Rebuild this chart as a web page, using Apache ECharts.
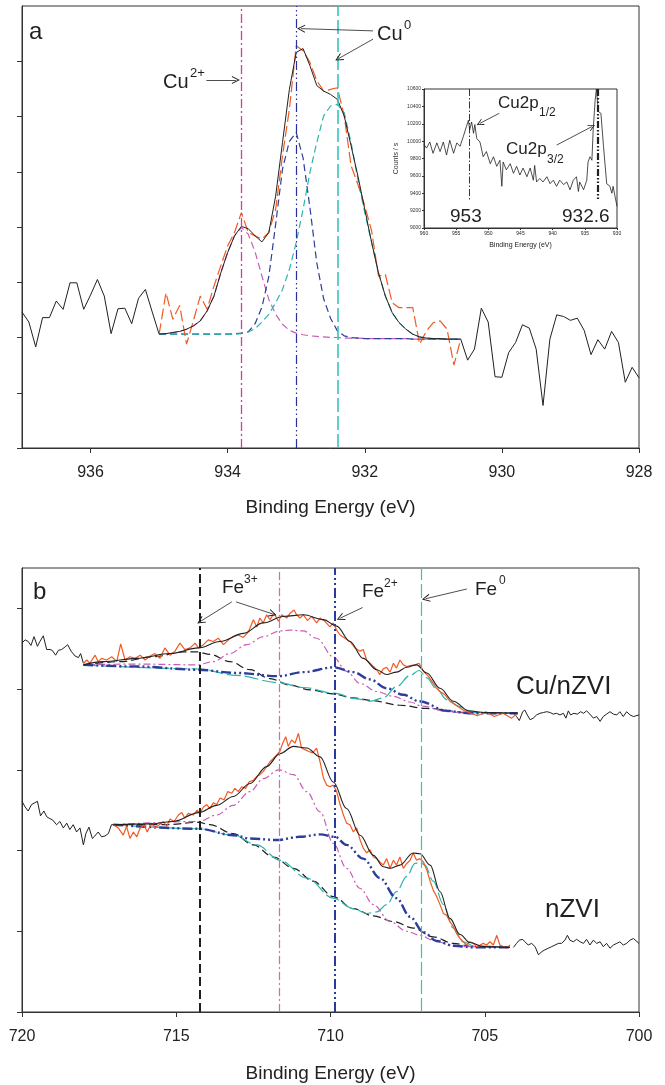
<!DOCTYPE html>
<html>
<head>
<meta charset="utf-8" />
<title>XPS Cu 2p / Fe 2p</title>
<style>
  html, body { margin: 0; padding: 0; background: #fff; }
  #chart { width: 665px; height: 1085px; }
</style>
</head>
<body>
<div id="chart"></div>
<script src="https://cdn.jsdelivr.net/npm/echarts@6/dist/echarts.min.js"></script>
<script>
// ---------- panel a : Cu 2p3/2 ----------
var cuRawLeft = [[937.0,2.46],[936.9,2.28],[936.8,1.83],[936.7,2.36],[936.6,2.36],[936.5,2.66],[936.4,2.51],[936.3,2.99],[936.2,2.99],[936.1,2.51],[936.0,2.77],[935.9,3.05],[935.8,2.75],[935.7,2.07],[935.6,2.52],[935.5,2.53],[935.4,2.25],[935.3,2.71],[935.2,2.87],[935.1,2.46],[935.0,2.06]];
var cuRawRight = [[930.6,1.97],[930.5,1.59],[930.4,1.79],[930.3,2.53],[930.2,2.28],[930.1,1.29],[930.0,1.28],[929.9,1.73],[929.8,1.91],[929.7,2.23],[929.6,2.17],[929.5,1.79],[929.4,0.77],[929.3,1.97],[929.2,2.41],[929.1,2.38],[929.0,2.31],[928.9,2.35],[928.8,2.13],[928.7,1.69],[928.6,1.96],[928.5,1.79],[928.4,2.11],[928.3,1.91],[928.2,1.19],[928.1,1.46],[928.0,1.27]];
var cuFitE = [935.0,934.9,934.8,934.7,934.6,934.5,934.4,934.3,934.2,934.1,934.0,933.9,933.8,933.7,933.6,933.5,933.4,933.3,933.2,933.1,933.0,932.9,932.8,932.7,932.6,932.5,932.4,932.3,932.2,932.1,932.0,931.9,931.8,931.7,931.6,931.5,931.4,931.3,931.2,931.1,931.0,930.9,930.8,930.7,930.6];
var cuData = [2.06,2.81,2.33,2.58,1.88,2.30,2.75,2.51,2.93,3.30,3.66,3.90,4.26,3.90,3.84,3.78,3.90,4.32,5.29,6.13,7.28,7.19,6.98,6.65,6.46,6.49,6.52,6.01,5.11,4.77,4.38,3.93,3.11,3.14,2.63,2.54,2.54,2.54,1.88,2.12,2.27,2.30,2.15,1.50,1.97];
var cuEnvelope = [2.06,2.07,2.09,2.11,2.15,2.21,2.30,2.48,2.75,3.17,3.54,3.84,4.01,3.97,3.84,3.73,3.90,4.56,5.53,6.49,7.16,7.23,6.92,6.56,6.46,6.40,6.31,6.01,5.47,4.92,4.32,3.72,3.17,2.75,2.45,2.27,2.15,2.06,2.01,1.99,1.98,1.98,1.97,1.97,1.97];
var cuPeak2plus = [2.06,2.07,2.09,2.11,2.15,2.21,2.30,2.48,2.75,3.17,3.54,3.84,3.99,3.87,3.55,3.11,2.69,2.42,2.24,2.13,2.08,2.05,2.03,2.02,2.01,2.00,2.00,1.99,1.99,1.99,1.98,1.98,1.98,1.98,1.98,1.98,1.98,1.97,1.97,1.97,1.97,1.97,1.97,1.97,1.97];
var cuPeak0a = [2.06,2.06,2.06,2.06,2.06,2.06,2.06,2.06,2.06,2.06,2.06,2.07,2.08,2.10,2.25,2.55,3.10,4.05,5.05,5.55,5.71,5.25,4.35,3.35,2.70,2.35,2.12,2.03,2.00,1.99,1.98,1.98,1.98,1.98,1.98,1.98,1.98,1.97,1.97,1.97,1.97,1.97,1.97,1.97,1.97];
var cuPeak0b = [2.06,2.06,2.06,2.06,2.06,2.06,2.06,2.06,2.06,2.06,2.06,2.06,2.07,2.10,2.16,2.28,2.42,2.63,2.87,3.23,3.72,4.32,4.99,5.53,6.01,6.19,6.22,6.07,5.53,4.86,4.26,3.72,3.17,2.75,2.45,2.27,2.15,2.06,2.01,1.99,1.98,1.98,1.97,1.97,1.97];
var cuLines = [933.8, 933.0, 932.4];
var cuTicks = [928, 930, 932, 934, 936];

// ---------- inset : Cu 2p survey ----------
var insetE = [960.0,959.6,959.1,958.6,958.0,957.5,957.0,956.5,956.0,955.4,954.9,954.4,953.9,953.4,953.1,952.9,952.6,952.3,952.1,951.8,951.3,950.8,950.3,949.7,949.2,948.7,948.2,947.9,947.7,947.2,946.6,946.1,945.6,945.1,944.6,944.0,943.5,943.0,942.8,942.5,942.0,941.5,940.9,940.4,939.9,939.4,938.9,938.3,937.8,937.3,936.8,936.3,936.0,935.8,935.2,934.7,934.5,934.2,933.9,933.7,933.4,933.2,932.9,932.5,932.1,931.6,931.1,930.8,930.6,930.3,930.0];
var insetCounts = [9960,9920,9990,9860,9980,9880,9990,9840,10010,9860,9980,9940,10050,10170,10240,10130,10220,10090,10190,10030,9990,9820,9880,9740,9820,9710,9780,9480,9760,9670,9740,9630,9710,9610,9690,9590,9690,9550,9720,9530,9570,9530,9590,9510,9550,9480,9550,9500,9530,9440,9550,9590,9420,9530,9440,9550,9760,9820,9780,10130,10470,10600,10340,10320,9940,9510,9480,9400,9480,9360,9250];
var insetLines = [953, 933];

// ---------- panel b : Fe 2p3/2 ----------
var feRawTopLeft = [[720.0,4.57],[719.9,4.61],[719.8,4.59],[719.71,4.54],[719.61,4.65],[719.5,4.53],[719.42,4.59],[719.31,4.66],[719.2,4.49],[719.09,4.49],[719.02,4.48],[718.91,4.42],[718.82,4.48],[718.72,4.49],[718.61,4.52],[718.52,4.55],[718.41,4.47],[718.28,4.41],[718.17,4.39],[718.1,4.44],[718.01,4.32]];
var feRawTopRight = [[704.07,3.71],[703.97,3.66],[703.88,3.61],[703.77,3.72],[703.7,3.74],[703.62,3.68],[703.53,3.62],[703.43,3.64],[703.32,3.68],[703.21,3.70],[703.1,3.71],[702.99,3.72],[702.88,3.71],[702.78,3.69],[702.67,3.70],[702.56,3.68],[702.45,3.70],[702.37,3.64],[702.29,3.73],[702.22,3.68],[702.11,3.70],[702.0,3.69],[701.89,3.72],[701.8,3.70],[701.7,3.73],[701.59,3.69],[701.48,3.64],[701.37,3.66],[701.26,3.60],[701.16,3.66],[701.05,3.69],[700.94,3.72],[700.83,3.69],[700.72,3.68],[700.62,3.72],[700.51,3.66],[700.4,3.72],[700.29,3.68],[700.18,3.66],[700.0,3.68]];
var feRawBotLeft = [[720.0,2.61],[719.9,2.54],[719.8,2.49],[719.69,2.57],[719.5,2.61],[719.4,2.43],[719.29,2.49],[719.2,2.42],[719.12,2.40],[719.01,2.38],[718.88,2.32],[718.77,2.36],[718.66,2.28],[718.55,2.34],[718.45,2.26],[718.34,2.32],[718.23,2.23],[718.12,2.28],[718.01,2.07],[717.93,2.21],[717.83,2.29],[717.72,2.15],[717.64,2.18],[717.53,2.23],[717.42,2.17],[717.31,2.18],[717.2,2.21],[717.1,2.32],[717.04,2.32]];
var feRawBotRight = [[704.07,0.80],[703.97,0.85],[703.88,0.89],[703.77,0.90],[703.7,0.87],[703.59,0.83],[703.48,0.85],[703.37,0.81],[703.26,0.71],[703.14,0.75],[703.05,0.77],[702.94,0.79],[702.83,0.81],[702.72,0.83],[702.61,0.85],[702.51,0.85],[702.4,0.89],[702.32,0.95],[702.24,0.89],[702.13,0.87],[702.02,0.90],[701.91,0.87],[701.8,0.85],[701.7,0.90],[701.59,0.83],[701.48,0.89],[701.37,0.85],[701.26,0.87],[701.16,0.81],[701.05,0.85],[700.94,0.79],[700.83,0.83],[700.72,0.85],[700.62,0.87],[700.51,0.83],[700.4,0.85],[700.29,0.89],[700.18,0.91],[700.0,0.85]];

var feDataTop = [[718.01,4.32],[717.9,4.36],[717.8,4.32],[717.63,4.42],[717.53,4.34],[717.42,4.38],[717.26,4.36],[717.09,4.40],[716.93,4.34],[716.8,4.56],[716.66,4.36],[716.5,4.40],[716.34,4.38],[716.17,4.42],[716.01,4.36],[715.85,4.41],[715.69,4.44],[715.53,4.38],[715.37,4.51],[715.2,4.42],[715.04,4.47],[714.88,4.57],[714.72,4.49],[714.55,4.51],[714.39,4.57],[714.28,4.51],[714.12,4.55],[713.96,4.61],[713.8,4.59],[713.64,4.63],[713.47,4.55],[713.31,4.61],[713.15,4.65],[712.99,4.67],[712.83,4.64],[712.66,4.71],[712.5,4.86],[712.39,4.77],[712.29,4.88],[712.18,4.82],[712.07,4.92],[711.96,4.86],[711.83,4.94],[711.69,4.84],[711.58,4.92],[711.42,4.88],[711.31,4.94],[711.18,4.98],[711.1,4.92],[710.99,4.88],[710.88,4.92],[710.75,4.85],[710.61,4.90],[710.45,4.82],[710.34,4.88],[710.18,4.84],[710.02,4.77],[709.91,4.82],[709.8,4.73],[709.69,4.67],[709.53,4.63],[709.37,4.59],[709.21,4.51],[709.04,4.47],[708.94,4.49],[708.83,4.36],[708.72,4.32],[708.61,4.28],[708.5,4.24],[708.4,4.18],[708.29,4.25],[708.18,4.27],[708.07,4.21],[707.96,4.32],[707.86,4.26],[707.75,4.36],[707.64,4.30],[707.53,4.28],[707.42,4.29],[707.26,4.30],[707.13,4.32],[706.99,4.22],[706.83,4.16],[706.67,4.07],[706.56,4.01],[706.45,3.97],[706.29,3.93],[706.13,3.85],[706.07,3.86],[705.86,3.78],[705.65,3.73],[705.51,3.71],[705.24,3.67],[704.96,3.72],[704.69,3.66],[704.41,3.70],[704.13,3.64],[703.93,3.70]];
var feTopEnv = [[718.01,4.30],[717.36,4.34],[716.28,4.38],[715.2,4.44],[714.28,4.51],[713.58,4.59],[712.82,4.69],[712.18,4.82],[711.53,4.90],[710.88,4.92],[710.23,4.86],[709.8,4.78],[709.37,4.59],[708.94,4.38],[708.5,4.24],[708.18,4.18],[707.86,4.21],[707.53,4.27],[707.21,4.30],[706.88,4.20],[706.45,4.01],[706.02,3.85],[705.51,3.73],[704.99,3.71],[703.93,3.70]];
var feTopSat = [[718.01,4.30],[716.82,4.34],[715.74,4.40],[714.77,4.46],[714.32,4.46],[713.91,4.43],[713.26,4.34],[712.61,4.24],[711.96,4.13],[711.31,4.05],[710.66,3.99],[709.91,3.94],[709.26,3.89],[708.7,3.86],[707.75,3.80],[706.9,3.76],[705.51,3.71],[703.93,3.70]];
var feTopFe3 = [[718.01,4.30],[716.28,4.31],[714.32,4.30],[713.8,4.34],[713.26,4.44],[712.72,4.55],[712.18,4.65],[711.64,4.72],[711.31,4.73],[710.88,4.72],[710.45,4.63],[709.91,4.40],[709.48,4.22],[709.04,4.07],[708.5,3.97],[707.96,3.91],[707.42,3.84],[707.04,3.79],[706.21,3.72],[705.51,3.70],[703.93,3.70]];
var feTopFe2 = [[718.01,4.30],[716.28,4.28],[714.32,4.24],[713.04,4.20],[711.69,4.16],[710.88,4.21],[709.89,4.27],[709.26,4.21],[708.72,4.12],[708.18,4.01],[707.64,3.93],[707.13,3.85],[706.21,3.73],[705.51,3.70],[703.93,3.70]];
var feTopFe0 = [[718.01,4.30],[714.32,4.25],[713.04,4.17],[711.69,4.08],[710.88,4.02],[709.89,3.95],[709.15,3.88],[708.72,3.85],[708.29,3.89],[707.86,4.03],[707.42,4.17],[707.13,4.23],[706.88,4.14],[706.56,4.00],[706.23,3.87],[705.79,3.78],[705.38,3.71],[704.13,3.70],[703.93,3.70]];

var feDataBot = [[717.04,2.32],[716.88,2.28],[716.72,2.19],[716.61,2.30],[716.5,2.15],[716.39,2.23],[716.28,2.17],[716.18,2.27],[716.05,2.32],[715.94,2.23],[715.8,2.34],[715.69,2.28],[715.55,2.32],[715.42,2.36],[715.31,2.30],[715.2,2.39],[715.07,2.36],[714.93,2.44],[714.82,2.47],[714.72,2.40],[714.61,2.46],[714.45,2.44],[714.32,2.50],[714.23,2.46],[714.12,2.54],[714.01,2.57],[713.91,2.52],[713.8,2.59],[713.69,2.57],[713.58,2.65],[713.45,2.63],[713.33,2.73],[713.2,2.71],[713.1,2.77],[712.99,2.73],[712.88,2.79],[712.75,2.77],[712.64,2.85],[712.5,2.87],[712.39,2.92],[712.29,2.94],[712.18,2.98],[712.07,3.04],[711.96,3.10],[711.85,3.14],[711.75,3.18],[711.64,3.23],[711.55,3.33],[711.45,3.41],[711.37,3.29],[711.26,3.37],[711.15,3.33],[711.04,3.45],[710.94,3.27],[710.83,3.25],[710.72,3.23],[710.58,3.21],[710.45,3.27],[710.34,3.10],[710.23,2.90],[710.12,2.81],[710.02,2.79],[709.91,2.81],[709.8,2.73],[709.69,2.57],[709.58,2.44],[709.48,2.34],[709.37,2.32],[709.26,2.23],[709.15,2.28],[709.04,2.13],[708.94,2.03],[708.83,1.97],[708.72,2.01],[708.61,1.92],[708.5,1.90],[708.4,1.86],[708.29,1.82],[708.18,1.90],[708.07,1.78],[707.96,1.88],[707.86,1.82],[707.75,1.92],[707.64,1.78],[707.53,1.84],[707.42,1.88],[707.32,1.97],[707.21,1.88],[707.1,1.90],[706.99,1.86],[706.88,1.76],[706.77,1.62],[706.67,1.51],[706.56,1.43],[706.45,1.33],[706.34,1.22],[706.24,1.20],[706.13,1.12],[706.02,1.06],[705.91,0.97],[705.8,0.91],[705.7,0.87],[705.59,0.83],[705.48,0.87],[705.37,0.85],[705.26,0.81],[705.15,0.83],[705.05,0.85],[704.94,0.83],[704.83,0.87],[704.72,0.83],[704.61,0.95],[704.51,0.83],[704.4,0.81],[704.29,0.79],[704.18,0.83]];
var feBotEnv = [[717.04,2.32],[715.85,2.33],[715.1,2.36],[714.27,2.47],[713.69,2.56],[713.15,2.67],[712.61,2.83],[712.07,3.04],[711.64,3.20],[711.2,3.29],[710.77,3.27],[710.34,3.16],[709.91,2.85],[709.48,2.52],[709.04,2.19],[708.61,1.94],[708.29,1.80],[708.07,1.78],[707.75,1.82],[707.32,1.97],[707.1,1.96],[706.77,1.82],[706.45,1.49],[706.13,1.16],[705.8,0.96],[705.48,0.86],[705.05,0.81],[704.18,0.80]];
var feBotSat = [[717.04,2.32],[715.31,2.32],[714.27,2.35],[713.91,2.32],[713.15,2.21],[712.5,2.07],[711.85,1.92],[711.2,1.78],[710.56,1.62],[709.91,1.43],[709.26,1.28],[708.61,1.19],[707.96,1.12],[707.32,1.04],[706.67,0.93],[706.02,0.85],[705.37,0.81],[704.18,0.80]];
var feBotFe3 = [[717.04,2.32],[714.27,2.36],[713.69,2.44],[713.15,2.56],[712.61,2.73],[712.18,2.89],[711.67,3.00],[711.2,2.94],[710.77,2.73],[710.34,2.48],[709.91,2.09],[709.48,1.78],[709.04,1.53],[708.61,1.33],[708.07,1.12],[707.53,1.00],[707.1,0.95],[706.67,0.89],[706.13,0.83],[705.59,0.81],[704.18,0.80]];
var feBotFe2 = [[717.04,2.32],[714.27,2.27],[713.15,2.19],[712.61,2.15],[711.75,2.13],[710.99,2.17],[710.34,2.20],[709.85,2.17],[709.48,2.07],[708.94,1.90],[708.4,1.66],[707.86,1.41],[707.42,1.18],[706.99,0.99],[706.56,0.88],[706.02,0.82],[705.37,0.80],[704.18,0.80]];
var feBotFe0 = [[717.04,2.32],[714.27,2.27],[713.15,2.19],[712.39,2.07],[711.64,1.88],[710.77,1.66],[709.91,1.41],[709.26,1.28],[708.83,1.22],[708.5,1.24],[708.18,1.33],[707.86,1.49],[707.53,1.68],[707.26,1.84],[707.1,1.86],[706.94,1.82],[706.67,1.62],[706.34,1.33],[706.02,1.04],[705.7,0.87],[705.37,0.82],[704.18,0.80]];
var feLines = [714.25, 711.65, 709.85, 707.05];
var feTicks = [700, 705, 710, 715, 720];

// ---------- styles ----------
var FONT = "'Liberation Sans', Arial, sans-serif";
var INK = '#231f20';
var ORANGE = '#f15a24';
var MAGENTA = '#c95cb5';
var BLUE = '#2e3d9c';
var CYAN = '#2ab5ab';
var ARROW = 'path://M5,0L10,10L8.7,10L5,2.6L1.3,10L0,10Z';

function zip(xs, ys) {
  return xs.map(function (x, i) { return [x, ys[i]]; });
}

function line(data, xi, color, width, type, z, smooth) {
  return {
    type: 'line', data: data, xAxisIndex: xi, yAxisIndex: xi,
    symbol: 'none', silent: true, z: z || 2,
    smooth: smooth ? 0.35 : false, smoothMonotone: smooth ? 'x' : undefined,
    lineStyle: { color: color, width: width, type: type || 'solid' }
  };
}

// full-height marker line, drawn as a two-point segment so its colour sticks
function vline(x, y0, y1, color, width, type) {
  return [{ coord: [x, y0], symbol: 'none', lineStyle: { color: color, width: width, type: type } },
          { coord: [x, y1], symbol: 'none' }];
}

function arrow(x1, y1, x2, y2, size) {
  return [{ coord: [x1, y1], symbol: 'none' },
          { coord: [x2, y2], symbol: ARROW, symbolSize: size || 8 }];
}

function xAxisCfg(grid, min, max, interval, ticks, nameGap, small) {
  return {
    gridIndex: grid, type: 'value', min: min, max: max, interval: interval, inverse: true,
    axisLine: { show: true, onZero: false, lineStyle: { color: '#333', width: 1 } },
    axisTick: { show: true, length: small ? 2 : 5, customValues: ticks, lineStyle: { color: '#333' } },
    axisLabel: { customValues: ticks, fontSize: small ? 5 : 16, color: '#222',
                 margin: small ? 3 : 17, fontFamily: FONT },
    splitLine: { show: false },
    name: 'Binding Energy (eV)', nameLocation: 'middle', nameGap: nameGap,
    nameTextStyle: { fontSize: small ? 7 : 19, color: '#222', fontFamily: FONT }
  };
}

function yAxisCfg(grid, min, max, interval, ticks) {
  return {
    gridIndex: grid, type: 'value', min: min, max: max, interval: interval,
    axisLine: { show: true, onZero: false, lineStyle: { color: '#333', width: 1 } },
    axisTick: { show: true, length: 5, customValues: ticks, lineStyle: { color: '#333' } },
    axisLabel: { show: false },
    splitLine: { show: false }
  };
}

var insetY = {
  gridIndex: 1, type: 'value', min: 9000, max: 10600, interval: 200,
  axisLine: { show: true, onZero: false, lineStyle: { color: '#333', width: 1 } },
  axisTick: { show: true, length: 2, lineStyle: { color: '#333' } },
  axisLabel: { fontSize: 5, color: '#333', margin: 3, fontFamily: FONT,
               formatter: function (v) { return String(v); } },
  splitLine: { show: false },
  name: 'Counts / s', nameLocation: 'middle', nameRotate: 90, nameGap: 24,
  nameTextStyle: { fontSize: 7, color: '#333', fontFamily: FONT }
};

var dashA = [7, 4];

var series = [
  // panel a
  Object.assign(line(cuRawLeft, 0, INK, 1), {
    markLine: {
      silent: true, symbol: 'none', label: { show: false },
      data: [
        vline(cuLines[0], 0, 8, '#d23c9c', 1.3, [9, 3, 2, 3]),
        vline(cuLines[1], 0, 8, '#2a2f9e', 1.2, [9, 3, 1.5, 3, 1.5, 3]),
        vline(cuLines[2], 0, 8, '#33c6bd', 1.6, [14, 4])
      ]
    }
  }),
  Object.assign(line(cuRawRight, 0, INK, 1), {
    markLine: {
      silent: true, label: { show: false }, lineStyle: { color: INK, width: 0.8, type: 'solid' },
      data: [
        arrow(934.31, 6.66, 933.88, 6.66),
        arrow(931.88, 7.55, 932.93, 7.59),
        arrow(931.88, 7.40, 932.38, 7.05)
      ]
    }
  }),
  line(zip(cuFitE, cuPeak2plus), 0, MAGENTA, 1.2, dashA, 2),
  line(zip(cuFitE, cuPeak0a), 0, BLUE, 1.2, dashA, 2),
  line(zip(cuFitE, cuPeak0b), 0, CYAN, 1.2, dashA, 2),
  line(zip(cuFitE, cuData), 0, ORANGE, 1.2, [11, 4], 3),
  line(zip(cuFitE, cuEnvelope), 0, INK, 1, 'solid', 4),

  // inset
  Object.assign(line(zip(insetE, insetCounts), 1, INK, 0.8, 'solid', 6), {
    markLine: {
      silent: true, label: { show: false }, lineStyle: { color: INK, width: 0.8, type: 'solid' },
      data: [
        vline(insetLines[0], 10600, 9320, INK, 0.9, [7, 2, 1.5, 2]),
        vline(insetLines[1], 10600, 9320, INK, 2.2, [7, 2, 1.5, 2, 1.5, 2]),
        arrow(948.3, 10320, 951.33, 10204, 7),
        arrow(939.37, 9955, 933.9, 10167, 7)
      ]
    }
  }),

  // panel b
  Object.assign(line(feRawTopLeft, 2, INK, 1), {
    markLine: {
      silent: true, symbol: 'none', label: { show: false },
      data: [
        vline(feLines[0], 0, 5.5, INK, 2, [9, 4]),
        vline(feLines[1], 0, 5.5, '#d764c6', 1.2, [8, 3, 2, 3]),
        vline(feLines[2], 0, 5.5, '#2b3a9a', 2, [10, 3, 2, 3, 2, 3]),
        vline(feLines[3], 0, 5.5, '#35c4bd', 1.2, [14, 4])
      ]
    }
  }),
  Object.assign(line(feRawTopRight, 2, INK, 1), {
    markLine: {
      silent: true, label: { show: false }, lineStyle: { color: INK, width: 0.8, type: 'solid' },
      data: [
        arrow(713.2, 5.08, 714.21, 4.84),
        arrow(713.06, 5.08, 711.87, 4.93),
        arrow(708.96, 5.01, 709.68, 4.88),
        arrow(705.58, 5.24, 706.91, 5.12)
      ]
    }
  }),
  line(feRawBotLeft, 2, INK, 1),
  line(feRawBotRight, 2, INK, 1),

  line(feTopSat, 2, INK, 1.2, [8, 4], 2, true),
  line(feTopFe3, 2, MAGENTA, 1.2, [7, 3, 2, 3], 2, true),
  line(feTopFe0, 2, CYAN, 1.2, [14, 4], 2, true),
  line(feTopFe2, 2, BLUE, 2.4, [10, 3, 2, 3, 2, 3], 2, true),
  line(feDataTop, 2, ORANGE, 1.2, 'solid', 3),
  line(feTopEnv, 2, INK, 1.1, 'solid', 4, true),

  line(feBotSat, 2, INK, 1.2, [8, 4], 2, true),
  line(feBotFe3, 2, MAGENTA, 1.2, [7, 3, 2, 3], 2, true),
  line(feBotFe0, 2, CYAN, 1.2, [14, 4], 2, true),
  line(feBotFe2, 2, BLUE, 2.4, [10, 3, 2, 3, 2, 3], 2, true),
  line(feDataBot, 2, ORANGE, 1.2, 'solid', 3),
  line(feBotEnv, 2, INK, 1.1, 'solid', 4, true)
];

// annotations: [text, x, y, fontSize]
var notes = [
  ['a', 29, 32, 24],
  ['Cu', 163, 82, 20], ['2+', 190, 73, 13],
  ['Cu', 377, 34, 20], ['0', 404, 25, 13],
  ['Cu2p', 498, 103, 17], ['1/2', 539, 113, 12],
  ['Cu2p', 506, 149, 17], ['3/2', 547, 160, 12],
  ['953', 450, 217, 19],
  ['932.6', 562, 217, 19],
  ['b', 33, 592, 24],
  ['Fe', 222, 588, 19], ['3+', 244, 580, 12],
  ['Fe', 362, 592, 19], ['2+', 384, 584, 12],
  ['Fe', 475, 590, 19], ['0', 499, 581, 12],
  ['Cu/nZVI', 516, 687, 26],
  ['nZVI', 545, 910, 26]
];

var graphic = notes.map(function (n) {
  return {
    type: 'text', x: n[1], y: n[2], z: 20, silent: true,
    style: { text: n[0], fontSize: n[3], fontFamily: FONT, fill: INK,
             textAlign: 'left', textVerticalAlign: 'middle' }
  };
});

var chart = echarts.init(document.getElementById('chart'));
chart.setOption({
  animation: false,
  backgroundColor: '#fff',
  textStyle: { fontFamily: FONT },
  grid: [
    { left: 22, top: 6, width: 617, height: 442, show: true, borderColor: '#333', borderWidth: 1 },
    { left: 424, top: 89, width: 193, height: 139, show: true, borderColor: '#333', borderWidth: 1, backgroundColor: '#fff' },
    { left: 22, top: 568, width: 617, height: 444, show: true, borderColor: '#333', borderWidth: 1 }
  ],
  xAxis: [
    xAxisCfg(0, 928, 937, 2, cuTicks, 50, false),
    xAxisCfg(1, 930, 960, 5, undefined, 14, true),
    xAxisCfg(2, 700, 720, 5, feTicks, 52, false)
  ],
  yAxis: [
    yAxisCfg(0, 0, 8, 1, [0, 1, 2, 3, 4, 5, 6, 7]),
    insetY,
    yAxisCfg(2, 0, 5.5, 1, [0, 1, 2, 3, 4, 5])
  ],
  series: series,
  graphic: graphic
});
</script>
</body>
</html>
